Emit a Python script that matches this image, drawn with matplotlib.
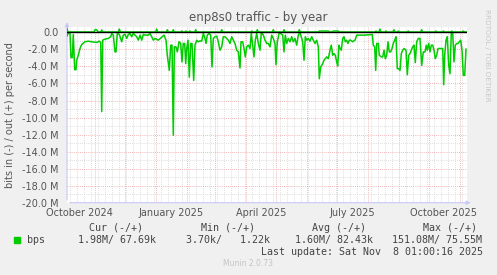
import numpy as np
import matplotlib
matplotlib.use('Agg')
import matplotlib.pyplot as plt
import matplotlib.dates as mdates
from matplotlib.ticker import MultipleLocator
from datetime import datetime, timedelta

plt.rcParams['font.family'] = 'DejaVu Sans'

start = datetime(2024, 10, 4, 1, 0)
span_days = 400

# bits in (drawn negative), Mbit/s, x = days after start
in_days = [0, 1.3, 3, 4, 5.3, 6.3, 7.7, 9, 9.7, 11.3, 13, 14.7, 18, 21.3, 24.7, 29.7, 32.3, 33.7,
           34.7, 35.7, 38, 41.3, 43.7, 44.7, 46.3, 48, 49, 50.3, 52.3, 54.7, 56.3, 58, 59.7, 61.3,
           63, 64.7, 66.3, 68, 69.7, 71.3, 73, 74.7, 76.3, 78, 81.3, 83, 84.7, 86.3, 88, 91.3, 93,
           97, 99, 100.3, 102.3, 103.7, 105, 106.3, 107.3, 109, 110.3, 112, 113.7, 115, 116.3,
           117.7, 118.7, 119.7, 121, 122.3, 123.7, 125, 126.7, 128, 129.7, 131.3, 133, 134.7,
           136.3, 138, 139, 140.3, 142.3, 143.7, 145, 146.3, 148, 149.7, 151.3, 153, 154.7, 156.3,
           158, 159.7, 161.3, 163, 164.7, 166.3, 168, 169.7, 171.3, 173, 174, 175.7, 177, 178.3,
           179.7, 181.3, 183, 184.3, 185.7, 187, 188.3, 189.7, 191.3, 193, 194.3, 196.3, 198,
           199.7, 201.3, 203, 204.7, 206.3, 208, 209, 210.3, 212.3, 213.7, 215.7, 217, 218.3,
           219.7, 221.3, 223, 224.7, 226.3, 228, 229.7, 231.3, 233, 234.7, 235.7, 237, 238.3,
           239.7, 241.3, 243, 244.7, 246.3, 248, 249.7, 251.3, 252.3, 253.7, 255.7, 257, 258.3,
           259.7, 261.3, 263, 264.3, 265.7, 267, 268.3, 269.7, 270.7, 272, 273, 274.3, 275.7,
           277, 278.3, 279.7, 281, 282.3, 283.7, 285.7, 288, 289.7, 298, 305.3, 306.3, 307.7,
           308.7, 309.7, 311.3, 312.3, 314.3, 315.7, 317, 318.3, 319.7, 321, 322.3, 323.7, 325,
           326.3, 327.7, 329, 330.3, 331.7, 333, 334.3, 335.7, 337, 339, 340.3, 341.7, 343,
           344.3, 345.7, 347, 348.3, 349.7, 351.3, 353, 354.7, 356.3, 358, 359.3, 360.3, 361.7,
           363, 364.3, 365.7, 367, 368.3, 369.7, 371, 375.7, 376.7, 377.7, 379, 380.3, 381.7,
           383, 384.3, 385.7, 387, 388.3, 389.7, 391, 392.3, 393.7, 395, 396.3, 397.7, 399]
in_vals = [-0.43, -0.08, -0.12, -2.96, -2.96, -0.24, -4.38, -4.38, -3.27, -2.68, -1.89, -1.42,
           -1.1, -1.03, -1.1, -1.18, -1.03, -1.18, -9.3, -0.91, -0.79, -0.71, -0.51, -0.12,
           -0.32, -2.29, -2.29, -0.12, -0.24, -1.1, -0.32, -0.24, -0.71, -0.24, -0.12, -0.51,
           -0.12, -0.32, -0.51, -0.91, -0.32, -0.91, -0.24, -0.32, -0.32, -0.12, -0.51, -0.91,
           -0.71, -0.91, -0.75, -0.32, -0.91, -2.68, -4.46, -1.5, -1.5, -12.07, -1.7, -1.7,
           -2.29, -1.1, -1.3, -3.47, -1.3, -1.3, -3.67, -1.89, -0.91, -5.25, -1.3, -1.3, -5.64,
           -1.5, -0.91, -1.1, -0.99, -1.03, -0.12, -0.71, -1.3, -0.32, -0.12, -0.32, -4.06,
           -0.71, -0.51, -0.43, -1.1, -2.09, -1.7, -0.51, -0.51, -0.71, -0.91, -1.3, -0.51,
           -0.91, -1.3, -2.09, -2.29, -4.18, -1.1, -1.1, -1.89, -2.88, -1.7, -1.5, -1.89, -0.12,
           -1.5, -2.88, -0.91, -0.12, -1.3, -2.09, -0.02, -0.3, -0.91, -1.3, -1.3, -1.7, -0.32,
           -0.71, -1.3, -3.79, -1.1, 0.0, -0.12, -0.32, -2.29, -0.32, -1.3, -0.71, -1.1, -0.51,
           -1.1, -0.71, -1.5, -0.32, 0.0, -0.71, -1.1, -3.27, -0.51, -0.91, -0.71, -1.03, -0.51,
           -0.91, -1.3, -0.91, -1.7, -5.44, -4.06, -3.67, -3.27, -3.08, -2.88, -3.08, -2.09,
           -1.5, -2.68, -2.49, -2.68, -3.47, -3.94, -1.5, -1.89, -2.09, -0.71, -0.51, -1.1,
           -0.91, -1.3, -0.91, -0.91, -1.1, -0.91, -0.32, -0.32, -0.24, -1.5, -1.7, -4.46, -1.3,
           -1.3, -2.68, -2.88, -2.88, -2.09, -3.08, -2.68, -1.1, -2.29, -2.29, -1.89, -1.3,
           -0.91, -0.51, -4.26, -4.26, -4.46, -2.49, -2.09, -1.89, -2.09, -4.97, -2.68, -2.49,
           -2.09, -1.7, -1.5, -3.55, -1.1, -0.71, -0.71, -3.87, -2.29, -2.29, -1.5, -2.09, -1.3,
           -2.29, -1.5, -1.5, -2.09, -3.08, -2.68, -1.89, -1.89, -6.15, -2.68, -0.91, -0.51,
           -3.87, -4.85, 0.0, 0.0, -3.47, -1.5, -1.3, -1.3, -1.1, -0.91, -2.09, -5.05, -5.05,
           -1.97]

# bits out (drawn positive), Mbit/s
out_days = [0, 1, 27, 28, 29.7, 31, 33.7, 34.7, 35.7, 51.3, 52.3, 53.3, 88.7, 89.7, 90.7, 99.3,
            100.3, 101.3, 105.3, 106.3, 107.3, 113.7, 114.7, 115.7, 118, 119, 120, 122, 123, 124,
            127.7, 128.7, 129.7, 153.7, 154.7, 155.7, 183.7, 184.7, 185.7, 189.3, 190.3, 191.3,
            205.3, 206.3, 207.3, 216, 217, 218, 231.3, 232.3, 233.3, 251.3, 252.3, 261.3, 262.3,
            265.3, 266.3, 271.3, 272.3, 308, 309, 310, 312, 313, 314, 318, 319, 320, 326, 327,
            328, 330.3, 331.3, 332.3, 340.3, 341.3, 342.3, 353.7, 354.7, 355.7, 368, 369, 370,
            375.3, 376.3, 377.3, 383.7, 384.7, 385.7, 395.3, 396.3, 397.3, 400]
out_vals = [0.47, 0.05, 0.05, 0.31, 0.31, 0.05, 0.05, 0.28, 0.05, 0.05, 0.39, 0.05, 0.05, 0.39,
            0.05, 0.05, 0.31, 0.05, 0.05, 0.31, 0.05, 0.05, 0.16, 0.05, 0.05, 0.16, 0.05, 0.05,
            0.16, 0.05, 0.05, 0.31, 0.05, 0.05, 0.31, 0.05, 0.05, 0.16, 0.05, 0.05, 0.31, 0.05,
            0.05, 0.31, 0.05, 0.05, 0.31, 0.05, 0.05, 0.31, 0.05, 0.05, 0.16, 0.16, 0.05, 0.05,
            0.16, 0.16, 0.05, 0.05, 0.16, 0.05, 0.05, 0.39, 0.05, 0.05, 0.16, 0.05, 0.05, 0.31,
            0.05, 0.05, 0.16, 0.05, 0.05, 0.16, 0.05, 0.05, 0.31, 0.05, 0.05, 0.16, 0.05, 0.05,
            0.16, 0.05, 0.05, 0.16, 0.05, 0.05, 0.16, 0.05, 0.05]

ytick_vals = np.arange(0, -21, -2)
ytick_labels = ['0.0'] + ['%.1f M' % v for v in ytick_vals[1:]]
xlabel_text = ['October 2024', 'January 2025', 'April 2025', 'July 2025', 'October 2025']
xlabel_dates = [datetime(2024, 10, 16), datetime(2025, 1, 16), datetime(2025, 4, 16),
                datetime(2025, 7, 16), datetime(2025, 10, 16)]

col_heads = ['Cur (-/+)', 'Min (-/+)', 'Avg (-/+)', 'Max (-/+)']
col_vals = ['1.98M/ 67.69k', '3.70k/   1.22k', '1.60M/ 82.43k', '151.08M/ 75.55M']
last_update = 'Last update: Sat Nov  8 01:00:16 2025'

W, H = 497, 275
green = '#00CC00'
txt = '#555555'

fig = plt.figure(figsize=(W / 100, H / 100), dpi=100, facecolor='#F0F0F0')
ax = fig.add_axes([67 / W, 72.3 / H, 400 / W, 175.4 / H])
ax.set_facecolor('white')

t_in = [start + timedelta(days=d) for d in in_days]
t_out = [start + timedelta(days=d) for d in out_days]
ax.plot(t_in, in_vals, color=green, lw=1.1, zorder=4)
ax.plot(t_out, out_vals, color=green, lw=1.1, zorder=4)
ax.axhline(0, color='black', lw=1.0, zorder=5)

ax.set_xlim(start, start + timedelta(days=span_days))
ax.set_ylim(-20, 0.6)

# grid like rrdtool: gray minor, red major
ax.xaxis.set_major_locator(mdates.MonthLocator())
ax.xaxis.set_minor_locator(mdates.WeekdayLocator(byweekday=mdates.MO))
ax.yaxis.set_major_locator(MultipleLocator(2))
ax.yaxis.set_minor_locator(MultipleLocator(1))
ax.grid(which='minor', color='#D4D4D4', ls=(0, (1, 1.5)), lw=0.6, zorder=1)
ax.grid(which='major', color='#EFA0A0', ls=(0, (1, 1.5)), lw=0.6, zorder=2)
ax.set_xticklabels([])
ax.tick_params(which='both', length=0)
ax.set_yticks(ytick_vals)
ax.set_yticklabels(ytick_labels, fontsize=7, color=txt)
ax.tick_params(axis='y', pad=6)

for lab, d in zip(xlabel_text, xlabel_dates):
    ax.text(mdates.date2num(d), -20.6, lab, fontsize=7, color=txt,
            ha='center', va='top', clip_on=False)

for s in ax.spines.values():
    s.set_visible(False)
ax.annotate('', xy=(0, 1.045), xytext=(0, 0), xycoords='axes fraction',
            arrowprops=dict(arrowstyle='-|>', color='#C8C8F8', lw=0.8, mutation_scale=6))
ax.annotate('', xy=(1.016, 0), xytext=(0, 0), xycoords='axes fraction',
            arrowprops=dict(arrowstyle='-|>', color='#C8C8F8', lw=0.8, mutation_scale=6))

fig.text(258 / W, 1 - 17 / H, 'enp8s0 traffic - by year', fontsize=8.5, color=txt,
         ha='center', va='center')
fig.text(10 / W, 1 - 115 / H, 'bits in (-) / out (+) per second', fontsize=7, color=txt,
         rotation=90, ha='center', va='center')
fig.text(487 / W, 1 - 55 / H, 'RRDTOOL / TOBI OETIKER', fontsize=5.2, color='#C8C8C8',
         rotation=270, ha='center', va='center')

# legend block
mono = 'DejaVu Sans Mono'
head_x = [89, 201, 312, 423]
val_x = [78, 186, 295, 392]
for hx, h in zip(head_x, col_heads):
    fig.text(hx / W, 1 - 228 / H, h, fontsize=7.2, family=mono, color='#444444', va='center')
for vx, v in zip(val_x, col_vals):
    fig.text(vx / W, 1 - 240 / H, v, fontsize=7.2, family=mono, color='#444444', va='center')
fig.patches.append(plt.Rectangle((14 / W, 1 - 243 / H), 6 / W, 6 / H, color=green,
                                 transform=fig.transFigure))
fig.text(27 / W, 1 - 240 / H, 'bps', fontsize=7.2, family=mono, color='#444444', va='center')
fig.text(483 / W, 1 - 252 / H, last_update, fontsize=7.2, family=mono, color='#444444',
         ha='right', va='center')
fig.text(248 / W, 1 - 264 / H, 'Munin 2.0.73', fontsize=5.5, color='#C4C4C4',
         ha='center', va='center')

fig.savefig('out.png', dpi=100, facecolor=fig.get_facecolor())
